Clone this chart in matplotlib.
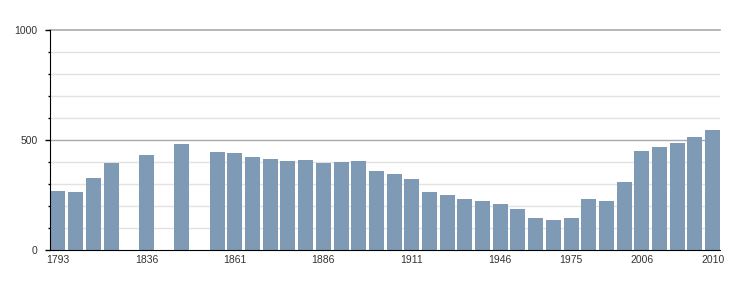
import matplotlib
matplotlib.use("Agg")
import matplotlib.pyplot as plt
import numpy as np

years = [1793, 1800, 1806, 1821, 1831, 1836, 1841, 1846, 1851, 1856, 1861, 1866, 1872,
         1876, 1881, 1886, 1891, 1896, 1901, 1906, 1911, 1921, 1926, 1931, 1936, 1946,
         1954, 1962, 1968, 1975, 1982, 1990, 1999, 2006, 2007, 2008, 2009, 2010]
population = [269, 264, 328, 396, None, 432, None, 482, None, 446, 441, 423, 414,
              405, 410, 396, 400, 405, 360, 346, 323, 264, 250, 232, 223, 209,
              187, 146, 137, 146, 232, 223, 310, 451, 469, 487, 514, 546]
shown_labels = [1793, 1836, 1861, 1886, 1911, 1946, 1975, 2006, 2010]

plt.rcParams['font.family'] = ['Liberation Sans', 'DejaVu Sans']
fig = plt.figure(figsize=(7.5, 3), dpi=100)
ax = fig.add_axes([50/750, 1-250/300, 670/750, (250-30.3)/300])

idx = np.arange(len(years))
vals = np.array([np.nan if v is None else v for v in population], dtype=float)
mask = ~np.isnan(vals)
ax.bar(idx[mask], vals[mask], width=0.85, color='#7f9ab4', zorder=3)

ax.set_xlim(-0.45, len(years) - 1 + 0.42)
ax.set_ylim(0, 1000)

for y in range(100, 1000, 100):
    c = '#aaaaaa' if y % 500 == 0 else '#e2e2e2'
    ax.axhline(y, color=c, lw=1, zorder=1)
ax.axhline(1000, color='#aaaaaa', lw=1.2, zorder=1, clip_on=False)

ax.set_yticks([0, 500, 1000])
ax.set_yticks(range(0, 1001, 100), minor=True)
ax.tick_params(axis='y', which='minor', direction='out', length=1.6, width=1, color='black')
ax.tick_params(axis='y', which='major', direction='out', length=3.8, width=1, color='black',
               labelsize=7.5, labelcolor='#333333', pad=5)

pos = [years.index(y) for y in shown_labels]
ax.set_xticks(pos)
ax.set_xticklabels([str(y) for y in shown_labels])
ax.tick_params(axis='x', length=0, labelsize=7.5, labelcolor='#333333', pad=3.5)

for s in ['top', 'right']:
    ax.spines[s].set_visible(False)
ax.spines['left'].set_color('black')
ax.spines['bottom'].set_color('black')
ax.spines['left'].set_zorder(4)
ax.spines['bottom'].set_zorder(4)

fig.savefig('out.png', dpi=100)
